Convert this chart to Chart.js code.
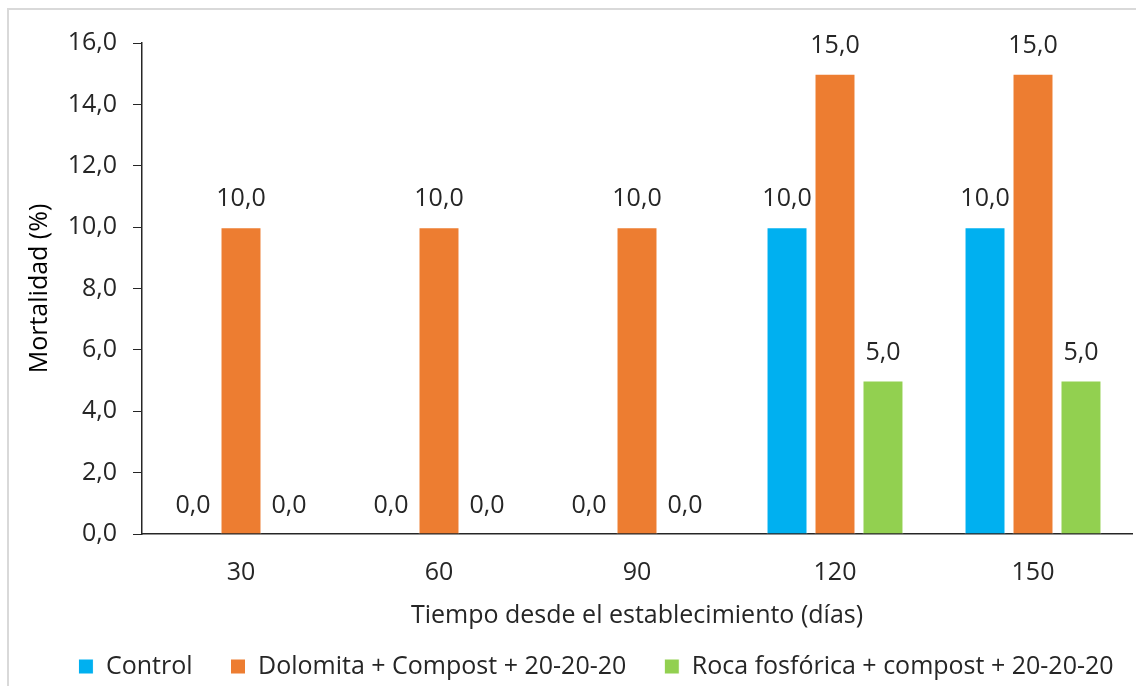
<!DOCTYPE html>
<html>
<head>
<meta charset="utf-8">
<script src="https://cdn.jsdelivr.net/npm/chart.js@4.4.0/dist/chart.umd.min.js"></script>
<style>
  html, body { margin: 0; padding: 0; background: #fff; overflow: hidden; }
  #frame { position: absolute; left: 7px; top: 8px; width: 1240px; height: 720px; border: 2px solid #d9d9d9; box-sizing: border-box; }
  #wrap { position: absolute; left: 0; top: 0; width: 1192px; height: 700px; }
</style>
</head>
<body>
<div id="frame"></div>
<div id="wrap"><canvas id="chart"></canvas></div>
<script>
const days = ['30', '60', '90', '120', '150'];
const control = [0, 0, 0, 10, 10];
const dolomita = [10, 10, 10, 15, 15];
const rocaFosforica = [0, 0, 0, 5, 5];
const seriesNames = ['Control', 'Dolomita + Compost + 20-20-20', 'Roca fosfórica + compost + 20-20-20'];
const colors = ['#00B0F0', '#ED7D31', '#92D050'];

const FONT = '"Open Sans"';
const TEXT = '#262626';

function fmt(v) {
    return v.toFixed(1).replace('.', ',');
}

// draws the value above each bar, Excel style
const barLabels = {
    id: 'barLabels',
    afterDatasetsDraw(chart) {
        const ctx = chart.ctx;
        ctx.save();
        ctx.font = `25px ${FONT}`;
        ctx.fillStyle = TEXT;
        ctx.textAlign = 'center';
        ctx.textBaseline = 'alphabetic';
        chart.data.datasets.forEach((ds, i) => {
            chart.getDatasetMeta(i).data.forEach((bar, j) => {
                ctx.fillText(fmt(ds.data[j]), bar.x, bar.y - 21);
            });
        });
        ctx.restore();
    }
};

const ctx = document.getElementById('chart').getContext('2d');
new Chart(ctx, {
    type: 'bar',
    data: {
        labels: days,
        datasets: [control, dolomita, rocaFosforica].map((d, i) => ({
            label: seriesNames[i],
            data: d,
            backgroundColor: colors[i],
            borderColor: '#ffffff',
            borderWidth: 1,
            categoryPercentage: 0.727,
            barPercentage: 0.854
        }))
    },
    options: {
        responsive: true,
        maintainAspectRatio: false,
        animation: false,
        layout: { padding: { left: 0, right: 0, top: 43, bottom: 11 } },
        plugins: {
            tooltip: { enabled: false },
            legend: {
                position: 'bottom',
                labels: {
                    font: { family: FONT, size: 25 },
                    color: TEXT,
                    boxWidth: 15,
                    boxHeight: 15,
                    padding: 38
                }
            }
        },
        scales: {
            x: {
                grid: { display: true, drawOnChartArea: false, drawTicks: false },
                border: { color: '#262626', width: 1.5 },
                ticks: { font: { family: FONT, size: 25 }, color: TEXT, padding: 23.5 },
                title: {
                    display: true,
                    text: 'Tiempo desde el establecimiento (días)',
                    font: { family: FONT, size: 25 },
                    color: TEXT,
                    padding: { top: -10, bottom: -15 }
                }
            },
            y: {
                min: 0,
                max: 16,
                afterFit(scale) { scale.width = 142; },
                grid: { display: true, drawOnChartArea: false, drawTicks: true, tickLength: 9, color: '#262626' },
                border: { color: '#262626', width: 1.5 },
                ticks: {
                    stepSize: 2,
                    font: { family: FONT, size: 25 },
                    color: TEXT,
                    padding: 16,
                    callback: v => fmt(v)
                },
                title: {
                    display: true,
                    text: 'Mortalidad (%)',
                    font: { family: FONT, size: 25 },
                    color: '#000',
                    padding: { top: 25, bottom: 0 }
                }
            },
            // empty right-hand axis, only reserves room so the legend sits off-centre like the original
            spacer: {
                position: 'right',
                afterFit(scale) { scale.width = 60; },
                grid: { display: false },
                border: { display: false },
                ticks: { display: false }
            }
        }
    },
    plugins: [barLabels]
});
</script>
</body>
</html>
